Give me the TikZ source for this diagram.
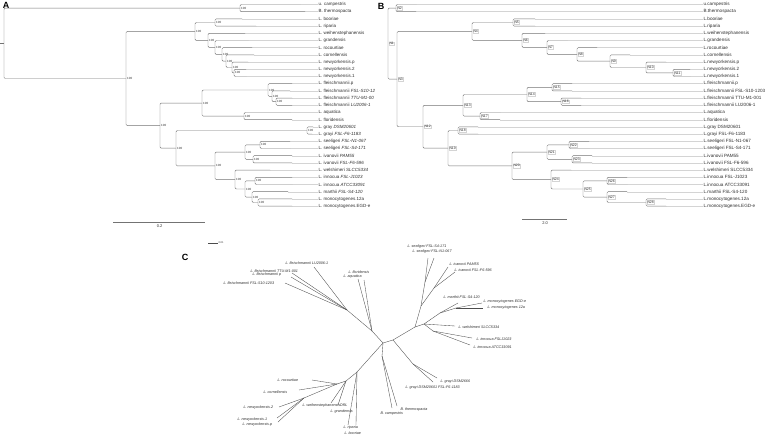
\documentclass[tikz,border=0pt]{standalone}
\usepackage{fontspec}
\setmainfont{Liberation Sans}
\usetikzlibrary{calc}

\definecolor{branchgray}{RGB}{115,115,115}
\definecolor{guidegray}{RGB}{212,212,212}
\definecolor{labelgray}{RGB}{45,45,45}

% internal node of tree A: name, x, upper child, lower child
\newcommand\boot[4]{%
  \path let \p1=($(#3)!.5!(#4)$) in (#2pt,\y1) coordinate (#1);
  \draw[branch] (#3) -| (#1) |- (#4);
  \node[bootlabel] (#1-b) at (#1) {100};}
% internal node of tree B
\newcommand\nbox[4]{%
  \path let \p1=($(#3)!.5!(#4)$) in (#2pt,\y1) coordinate (#1);
  \draw[branch] (#3) -| (#1) |- (#4);
  \node[nlabel] (#1-b) at (#1) {#1};}

\begin{document}
\begin{tikzpicture}[x=1pt,y=-1pt]
\tikzset{branch/.style={draw=branchgray, line width=0.45pt, rounded corners=1.2pt},
  guide/.style={draw=guidegray, line width=0.4pt},
  twig/.style={draw=labelgray!85, line width=0.35pt},
  leafA/.style={anchor=west, inner sep=0.4pt, text=labelgray, font=\fontsize{4.5}{5}\selectfont},
  leafB/.style={leafA, font=\fontsize{4.6}{5}\selectfont},
  leafC/.style={inner sep=0.3pt, text=labelgray, font=\fontsize{3.7}{4}\selectfont\itshape},
  bootlabel/.style={anchor=west, inner sep=0.4pt, xshift=0.6pt, text=labelgray, font=\fontsize{3}{3}\selectfont},
  nlabel/.style={anchor=west, draw=guidegray, fill=white, inner sep=0.7pt, xshift=0.6pt, text=labelgray, font=\fontsize{3.4}{3.5}\selectfont},
  panel/.style={inner sep=0pt, font=\fontsize{9}{9}\selectfont\bfseries}}
\useasboundingbox (0,0) rectangle (771,436);

\node[panel] (pA) at (6,5) {A};
\node[panel] (pB) at (381,6) {B};
\node[panel] (pC) at (185,257) {C};

% tree A
\foreach \t/\txt [count=\i from 0] in {300/u. campestris, 305/B. thermospacta,
  242/L. booriae, 256/L. riparia, 245/L. weihenstephanensis, 248/L. grandensis,
  252/L. rocourtiae, 254/L. cornellensis, 248/L. newyorkensis.p, 246/L. newyorkensis.2,
  246/L. newyorkensis.1, 292/L. fleischmannii.p, 290/L. fleischmannii \textit{FSL-S10-12},
  292/L. fleischmannii \textit{TTU-M1-00}, 292/L. fleischmannii \textit{LU2006-1},
  290/L. aquatica, 292/L. floridensis, 313/L. gray \textit{DSM20601},
  312/L. grayi \textit{FSL-F6-1183}, 290/L. seeligeri \textit{FSL-N1-067},
  290/L. seeligeri \textit{FSL-S4-171}, 292/L. ivanovii \textit{PAM55},
  292/L. ivanovii \textit{FSL-F6-596}, 270/L. welshimeri \textit{SLCC5334},
  292/L. innocua \textit{FSL-J1023}, 292/L. innocua \textit{ATCC33091},
  288/L. marthii \textit{FSL-S4-120}, 292/L. monocytogenes.12a, 292/L. monocytogenes.EGD-e}{
  \coordinate (a\i) at (\t,{4.5+7.2*\i});
  \node[leafA] (la\i) at (318,{4.5+7.2*\i}) {\txt};
  \draw[guide] (a\i) -- (la\i.west);
}
\boot{An5}{215}{a2}{a3}
\boot{An11}{234}{a9}{a10}
\boot{An10}{232}{a8}{An11}
\boot{An9}{226}{a7}{An10}
\boot{An8}{222}{a6}{An9}
\boot{An7}{215}{a5}{An8}
\boot{An6}{208}{a4}{An7}
\boot{An4}{195}{An5}{An6}
\boot{Acb}{240}{a0}{a1}
\boot{Af3}{276}{a13}{a14}
\boot{Af2}{272}{a12}{Af3}
\boot{Af}{268}{a11}{Af2}
\boot{Aaf}{244}{a15}{a16}
\boot{Ay}{202}{Af}{Aaf}
\boot{Ag}{307}{a17}{a18}
\boot{An22}{260}{a19}{a20}
\boot{An23}{253}{a21}{a22}
\boot{An21}{245}{An22}{An23}
\boot{An28}{258}{a27}{a28}
\boot{An27}{252}{a26}{An28}
\boot{An26}{255}{a24}{a25}
\boot{An25}{245}{An26}{An27}
\boot{An24}{235}{a23}{An25}
\boot{An20}{215}{An21}{An24}
\boot{Az}{176}{Ag}{An20}
\boot{Ax}{160}{Ay}{Az}
\boot{Al}{126}{An4}{Ax}
\path let \p1=($(Acb)!.5!(Al)$) in (4pt,\y1) coordinate (Ar) (0pt,\y1) coordinate (Ar0);
\draw[branch] (Acb) -| (Ar) |- (Al);
\draw[branch] (Ar) -- (Ar0);
% scale bar A
\coordinate (sa1) at (113,222);
\coordinate (sa2) at (205,222);
\draw[branch] (sa1) -- (sa2);
\node[bootlabel, anchor=north, font=\fontsize{4}{4}\selectfont] (sa) at ($(sa1)!.5!(sa2)+(0,2)$) {0.2};

% tree B
\foreach \t/\txt [count=\i from 0] in {416/u.campestris, 416/B.thermospacta,
  535/L.booriae, 535/L.riparia, 545/L.weihenstephanensis, 567/L.grandensis,
  597/L.rocourtiae, 630/L.cornellensis, 666/L.newyorkensis.p, 690/L.newyorkensis.2,
  690/L.newyorkensis.1, 572/L.fleischmannii.p, 572/L.fleischmannii FSL-S10-1203,
  581/L.fleischmannii TTU-M1-001, 581/L.fleischmannii LU2006-1, 500/L.aquatica,
  500/L.floridensis, 478/L.gray DSM20601, 478/L.grayi FSL-F6-1183,
  589/L.seeligeri FSL-N1-067, 589/L.seeligeri FSL-S4-171, 592/L.ivanovii PAM55,
  592/L.ivanovii FSL-F6-596, 571/L.welshimeri SLCC5334, 627/L.innocua FSL-J1023,
  627/L.innocua ATCC33091, 627/L.marthii FSL-S4-120, 666/L.monocytogenes.12a,
  666/L.monocytogenes.EGD-e}{
  \coordinate (b\i) at (\t,{4.5+7.2*\i});
  \node[leafB] (lb\i) at (703,{4.5+7.2*\i}) {\txt};
  \draw[guide] (b\i) -- (lb\i.west);
}
\nbox{N2}{396}{b0}{b1}
\nbox{N5}{513}{b2}{b3}
\nbox{N11}{673}{b9}{b10}
\nbox{N10}{646}{b8}{N11}
\nbox{N9}{610}{b7}{N10}
\nbox{N8}{577}{b6}{N9}
\nbox{N7}{547}{b5}{N8}
\nbox{N6}{522}{b4}{N7}
\nbox{N4}{472}{N5}{N6}
\nbox{N15}{552}{b11}{b12}
\nbox{N16}{561}{b13}{b14}
\nbox{N14}{527}{N15}{N16}
\nbox{N17}{480}{b15}{b16}
\nbox{N13}{463}{N14}{N17}
\nbox{N18}{458}{b17}{b18}
\nbox{N22}{569}{b19}{b20}
\nbox{N23}{572}{b21}{b22}
\nbox{N21}{547}{N22}{N23}
\nbox{N28}{646}{b27}{b28}
\nbox{N27}{607}{b26}{N28}
\nbox{N26}{607}{b24}{b25}
\nbox{N25}{583}{N26}{N27}
\nbox{N24}{551}{b23}{N25}
\nbox{N20}{512}{N21}{N24}
\nbox{N19}{448}{N18}{N20}
\nbox{N12}{423}{N13}{N19}
\nbox{N3}{397}{N4}{N12}
\nbox{N1}{388}{N2}{N3}
% scale bar B
\coordinate (sb1) at (522,219);
\coordinate (sb2) at (567,219);
\draw[branch] (sb1) -- (sb2);
\node[bootlabel, anchor=north, font=\fontsize{4}{4}\selectfont] (sb) at ($(sb1)!.5!(sb2)+(0,2)$) {2.0};

% tree C (unrooted)
\coordinate (c0) at (383,343);
\coordinate (c1) at (393,340);
\coordinate (ca) at (372,331);
\coordinate (cf) at (347,310);
\coordinate (cb) at (382,356);
\coordinate (csl) at (357,372);
\coordinate (cwg) at (346,381);
\coordinate (cr) at (337,384);
\coordinate (cn) at (304,398);
\coordinate (css) at (415,327);
\coordinate (cs1) at (421,306);
\coordinate (cse) at (425,282);
\coordinate (civ) at (434,288);
\coordinate (cm) at (424,324);
\coordinate (cmm) at (440,313);
\coordinate (cmo) at (456,308);
\coordinate (cin) at (433,331);
\coordinate (cg) at (413,364);
\coordinate (tLU) at (314,267);
\coordinate (tTT) at (292,273);
\coordinate (tFP) at (291,277);
\coordinate (tFS) at (285,283);
\coordinate (tFL) at (358,279);
\coordinate (tAQ) at (364,280);
\coordinate (tBT) at (397,406);
\coordinate (tBC) at (392,408);
\coordinate (tRI) at (348,425);
\coordinate (tBO) at (356,425);
\coordinate (tWH) at (331,403);
\coordinate (tGD) at (338,405);
\coordinate (tRO) at (312,380);
\coordinate (tCO) at (299,390);
\coordinate (tN2) at (279,407);
\coordinate (tN1) at (277,418);
\coordinate (tNP) at (278,422);
\coordinate (tS1) at (428,258);
\coordinate (tS2) at (434,258);
\coordinate (tI1) at (448,267);
\coordinate (tI2) at (455,272);
\coordinate (tMA) at (458,303);
\coordinate (tME) at (482,303);
\coordinate (tM12) at (483,308);
\coordinate (tWE) at (455,326);
\coordinate (tIN1) at (472,338);
\coordinate (tIN2) at (470,345);
\coordinate (tG1) at (437,378);
\coordinate (tG2) at (433,382);
\foreach \u/\v in {c0/c1, c0/ca, ca/cf, cf/tLU, cf/tTT, cf/tFP, cf/tFS, ca/tFL, ca/tAQ,
  c0/cb, cb/tBT, cb/tBC, c0/csl, csl/tRI, csl/tBO, csl/cwg, cwg/tWH, cwg/tGD, cwg/cr,
  cr/tRO, cr/tCO, cr/cn, cn/tN2, cn/tN1, cn/tNP, c1/css, css/cs1, cs1/cse, cse/tS1,
  cse/tS2, cs1/civ, civ/tI1, civ/tI2, css/cm, cm/cmm, cmm/tMA, cmm/cmo, cmo/tME,
  cmo/tM12, cm/tWE, cm/cin, cin/tIN1, cin/tIN2, c1/cg, cg/tG1, cg/tG2}
  \draw[twig] (\u) -- (\v);
\foreach \n/\x/\y/\txt in {lLU/285/263/L. fleischmannii LU2006-1,
  lTT/250/271/L. fleischmannii TTU-M1-001, lFP/252/275/L. fleischmannii p,
  lFS/223/283/L. fleischmannii FSL-S10-1203, lFL/348/272/L. floridensis,
  lAQ/343/277/L. aquatica, lS1/407/247/L. seeligeri FSL-S4-171,
  lS2/412/252/L. seeligeri FSL-N1-067, lI1/449/264/L. ivanovii PAM55,
  lI2/454/270/L. ivanovii FSL-F6-596, lMA/443/297/L. marthii FSL-S4-120,
  lME/483/302/L. monocytogenes EGD-e, lM12/487/308/L. monocytogenes 12a,
  lWE/458/327/L. welshimeri SLCC5334, lIN1/476/339/L. innocua FSLJ1023,
  lIN2/473/347/L. innocua ATCC33091, lG1/440/382/L. grayi DSM2666,
  lG2/405/388/L. grayi DSM20601 FSL-F6-1183, lBT/400/410/B. thermospacta,
  lBC/380/414/B. campestris, lRI/343/428/L. riparia, lBO/344/433/L. booriae,
  lWH/302/406/L. weihenstephanensisDRL, lGD/330/412/L. grandensis,
  lRO/277/380/L. rocourtiae, lCO/263/392/L. cornellensis,
  lN2/243/408/L. newyorkensis.2, lN1/237/420/L. newyorkensis.1,
  lNP/242/425/L. newyorkensis.p}
  \node[leafC, anchor=west] (\n) at (\x,\y) {\txt};
% scale bar C
\coordinate (sc1) at (208,243);
\coordinate (sc2) at (218,243);
\draw[twig] (sc1) -- (sc2);
\node[leafC, anchor=west, font=\fontsize{2.6}{3}\selectfont] (sc) at (sc2) {0.01};
\end{tikzpicture}
\end{document}
